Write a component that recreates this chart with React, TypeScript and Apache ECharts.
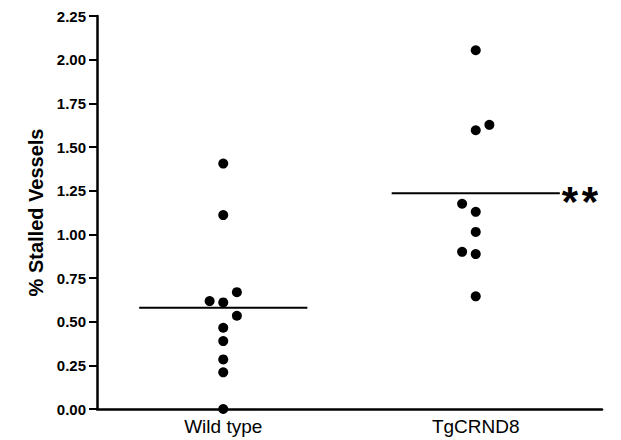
import React, { useEffect, useRef } from "react";
import * as echarts from "echarts";

// ---- data ----
const categories = ["Wild type", "TgCRND8"];
const wildTypeValues = [1.405, 1.11, 0.669, 0.618, 0.61, 0.534, 0.465, 0.389, 0.284, 0.21, 0.0];
const wildTypeColumns = [0, 0, 1, -1, 0, 1, 0, 0, 0, 0, 0];
const tgValues = [2.054, 1.627, 1.596, 1.175, 1.129, 1.014, 0.9, 0.887, 0.645];
const tgColumns = [0, 1, 0, -1, 0, 0, -1, 0, 0];
const groupMeans = [0.58, 1.235];
const significance = ["", "**"];
const yTicks = [0, 0.25, 0.5, 0.75, 1.0, 1.25, 1.5, 1.75, 2.0, 2.25];

const COLUMN_STEP = 0.054;
const MEAN_HALF_WIDTH = 0.333;
const FONT = "Liberation Sans, Arial, sans-serif";

export default function App() {
  const ref = useRef<HTMLDivElement>(null);
  useEffect(() => {
    if (!ref.current) return;
    const chart = echarts.init(ref.current, undefined, { renderer: "svg" });
    const groups = [
      { values: wildTypeValues, cols: wildTypeColumns },
      { values: tgValues, cols: tgColumns },
    ];
    const scatterSeries = groups.map((g, gi) => ({
      type: "scatter",
      xAxisIndex: 1,
      symbol: "circle",
      symbolSize: 10,
      itemStyle: { color: "#000", opacity: 1 },
      data: g.values.map((v, i) => [gi + g.cols[i] * COLUMN_STEP, v]),
      z: 5,
    }));
    const meanSeries = groupMeans.map((m, gi) => {
      const sig = significance[gi];
      return {
        type: "line",
        xAxisIndex: 1,
        symbol: "none",
        lineStyle: { color: "#000", width: 2 },
        data: [
          [gi - MEAN_HALF_WIDTH, m],
          [gi + MEAN_HALF_WIDTH, m],
        ],
        endLabel: {
          show: sig !== "",
          formatter: () => sig.split("").map((c) => `{s|${c}}`).join(""),
          distance: 0,
          offset: [0, 8],
          rich: {
            s: {
              color: "#000",
              fontSize: 42,
              fontWeight: "bold",
              fontFamily: FONT,
              width: 20,
              align: "center",
            },
          },
        },
        z: 4,
      };
    });
    chart.setOption({
      animation: false,
      backgroundColor: "#fff",
      grid: { left: 97, right: 19, top: 16, bottom: 31, containLabel: false },
      xAxis: [
        {
          type: "category",
          data: categories,
          boundaryGap: true,
          axisLine: { lineStyle: { color: "#000", width: 2.5 } },
          axisTick: { alignWithLabel: true, length: 5, lineStyle: { color: "#000", width: 2 } },
          axisLabel: {
            color: "#000",
            fontSize: 19,
            fontFamily: FONT,
            margin: 8,
          },
          splitLine: { show: false },
        },
        {
          type: "value",
          min: -0.5,
          max: 1.5,
          show: false,
        },
      ],
      yAxis: {
        type: "value",
        min: yTicks[0],
        max: yTicks[yTicks.length - 1],
        interval: 0.25,
        name: "% Stalled Vessels",
        nameLocation: "middle",
        nameGap: 50,
        nameTextStyle: {
          color: "#000",
          fontSize: 20,
          fontWeight: "bold",
          fontFamily: FONT,
        },
        axisLine: { show: true, onZero: false, lineStyle: { color: "#000", width: 2.5 } },
        axisTick: { show: true, length: 8, lineStyle: { color: "#000", width: 2 } },
        axisLabel: {
          color: "#000",
          fontSize: 15,
          fontWeight: "bold",
          fontFamily: FONT,
          margin: 11,
          formatter: (v: number) => v.toFixed(2),
        },
        splitLine: { show: false },
      },
      series: [...meanSeries, ...scatterSeries],
    });
    return () => chart.dispose();
  }, []);
  return (
    <div
      ref={ref}
      style={{ position: "absolute", left: 0, top: 0, width: 621, height: 440, background: "#fff" }}
    />
  );
}
